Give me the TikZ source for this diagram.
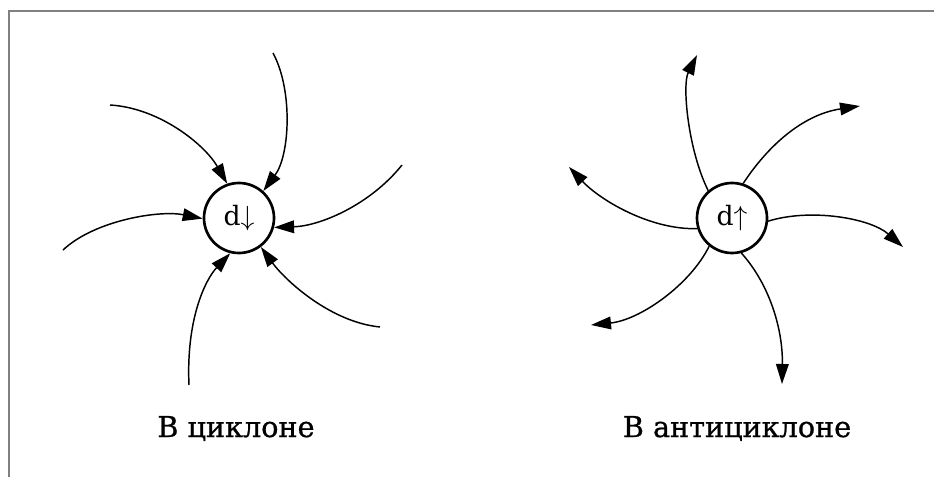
\documentclass[tikz,border=0pt]{standalone}
\usepackage{fontspec}
\setmainfont{DejaVu Serif}
\newfontfamily\capfont[FakeBold=0.8]{DejaVu Serif}
\usetikzlibrary{arrows.meta}
\tikzset{
  center/.style={circle, draw, line width=2pt, inner sep=0pt, minimum size=52.5pt, font=\fontsize{20}{22}\selectfont},
  flow/.style={line width=1.1pt, -{Triangle[length=15pt,width=9.5pt]}},
  caption/.style={anchor=base, inner sep=0pt, font=\capfont\fontsize{21.5}{24}\selectfont},
  frame/.style={draw=black!50, line width=1.6pt}
}
\begin{document}
\begin{tikzpicture}[x=0.75pt, y=-0.75pt]
\useasboundingbox (0,0) rectangle (934,477);
\draw[frame] (9,477) -- (9,11) -- (934,11);

% cyclone
\node[center] (c1) at (239,218) {d$\downarrow$};
\coordinate (a1) at (110,105);
\coordinate (a2) at (273,53);
\coordinate (a3) at (402,165);
\coordinate (a4) at (63,250);
\coordinate (a5) at (189,385);
\coordinate (a6) at (380,327);
\draw[flow] (a1) .. controls (160,108) and (205,145) .. (c1.109);
\draw[flow] (a2) .. controls (293,90) and (290,155) .. (c1.48);
\draw[flow] (a3) .. controls (370,205) and (320,226) .. (c1.-15);
\draw[flow] (a4) .. controls (95,220) and (160,210) .. (c1.181);
\draw[flow] (a5) .. controls (186,320) and (205,280) .. (c1.256);
\draw[flow] (a6) .. controls (330,322) and (285,280) .. (c1.-53);
\node[caption] (l1) at (236,437) {В циклоне};

% anticyclone
\node[center] (c2) at (732,218) {d$\uparrow$};
\coordinate (b1) at (697,55);
\coordinate (b2) at (860,106);
\coordinate (b3) at (569,167);
\coordinate (b4) at (903,247);
\coordinate (b5) at (591,325);
\coordinate (b6) at (782,384);
\draw[flow] (c2.131) .. controls (688,150) and (682,85) .. (b1);
\draw[flow] (c2.72) .. controls (765,150) and (800,115) .. (b2);
\draw[flow] (c2.197) .. controls (650,230) and (600,200) .. (b3);
\draw[flow] (c2.-5) .. controls (810,208) and (870,218) .. (b4);
\draw[flow] (c2.231) .. controls (690,285) and (640,320) .. (b5);
\draw[flow] (c2.285) .. controls (770,285) and (783,330) .. (b6);
\node[caption] (l2) at (737,437) {В антициклоне};
\end{tikzpicture}
\end{document}
